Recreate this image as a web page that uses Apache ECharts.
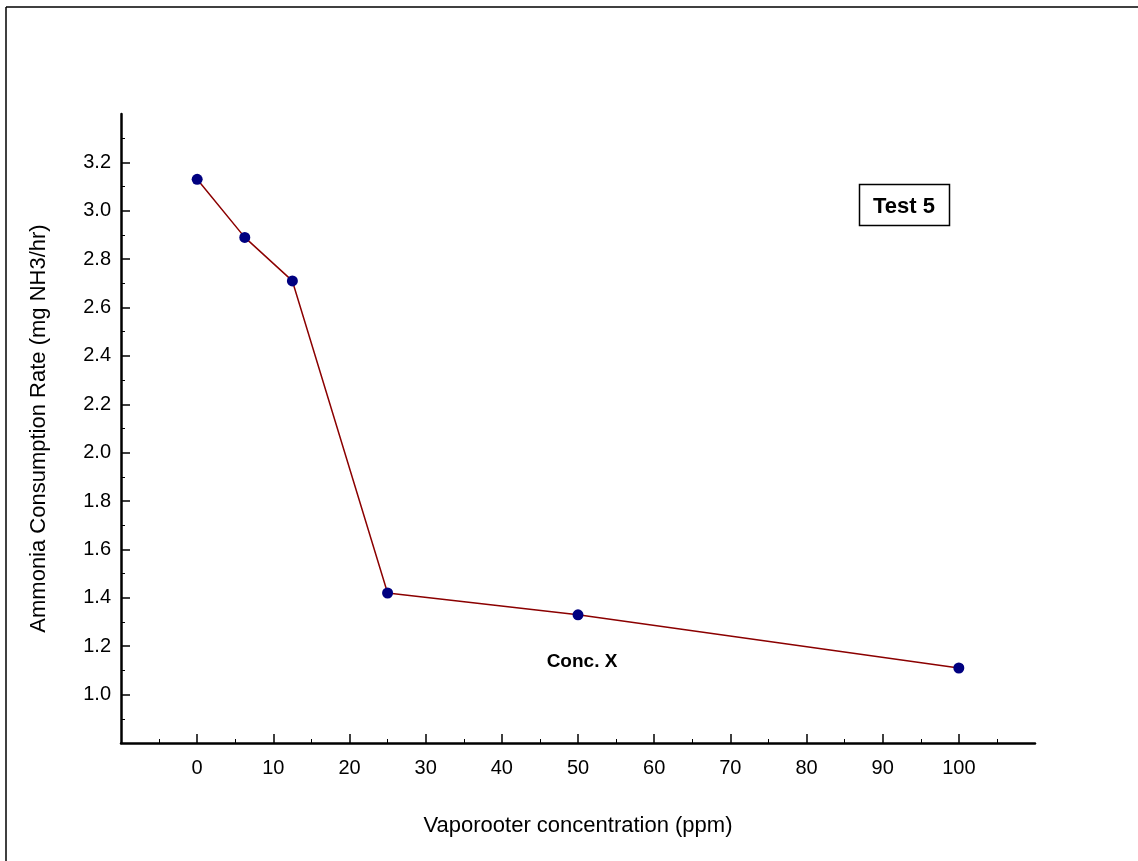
<!DOCTYPE html>
<html lang="en">
<head>
  <meta charset="UTF-8">
  <title>Test 5</title>
  <style>
    html, body { margin: 0; padding: 0; background: #fff; }
    #echart { width: 1138px; height: 861px; }
  </style>
</head>
<body>
  <div id="echart"></div>
  <script src="https://cdn.jsdelivr.net/npm/echarts@6/dist/echarts.min.js"></script>
  <script>
    // concentration (ppm)
    var conc = [0, 6.25, 12.5, 25, 50, 100];
    // ammonia consumption rate (mg NH3/hr)
    var rate = [3.13, 2.89, 2.71, 1.42, 1.33, 1.11];
    var xTicks = [0, 10, 20, 30, 40, 50, 60, 70, 80, 90, 100];
    var yTicks = [1.0, 1.2, 1.4, 1.6, 1.8, 2.0, 2.2, 2.4, 2.6, 2.8, 3.0, 3.2];

    var points = conc.map(function (c, i) { return [c, rate[i]]; });
    var font = 'Liberation Sans, Arial, sans-serif';

    var option = {
      backgroundColor: '#fff',
      animation: false,
      grid: { left: 121, top: 114, right: 103, bottom: 118 },
      xAxis: {
        type: 'value',
        min: -10,
        max: 110,
        interval: 10,
        name: 'Vaporooter concentration (ppm)',
        nameLocation: 'middle',
        nameGap: 72,
        nameTextStyle: { fontFamily: font, fontSize: 22, color: '#000' },
        axisLine: { onZero: false, lineStyle: { color: '#000', width: 2.5 } },
        axisTick: { inside: true, length: 9, customValues: xTicks, lineStyle: { color: '#000', width: 1.5 } },
        minorTick: { show: true, splitNumber: 2, length: 4, lineStyle: { color: '#000', width: 1 } },
        splitLine: { show: false },
        axisLabel: {
          margin: 15,
          fontFamily: font, fontSize: 20, color: '#000',
          formatter: function (v) { return xTicks.indexOf(v) >= 0 ? String(v) : ''; }
        }
      },
      yAxis: {
        type: 'value',
        min: 0.8,
        max: 3.4,
        interval: 0.2,
        name: 'Ammonia Consumption Rate (mg NH3/hr)',
        nameLocation: 'middle',
        nameGap: 71,
        nameTextStyle: { fontFamily: font, fontSize: 22, color: '#000' },
        axisLine: { show: true, onZero: false, lineStyle: { color: '#000', width: 2.5 } },
        axisTick: { show: true, inside: true, length: 9, customValues: yTicks, lineStyle: { color: '#000', width: 1.5 } },
        minorTick: { show: true, splitNumber: 2, length: 4, lineStyle: { color: '#000', width: 1 } },
        splitLine: { show: false },
        axisLabel: {
          margin: 10,
          fontFamily: font, fontSize: 20, color: '#000',
          formatter: function (v) {
            var r = Math.round(v * 10) / 10;
            return yTicks.indexOf(r) >= 0 ? r.toFixed(1) : '';
          }
        }
      },
      series: [{
        type: 'line',
        data: points,
        symbol: 'circle',
        symbolSize: 11,
        lineStyle: { color: '#8b0000', width: 1.5 },
        itemStyle: { color: '#000080' }
      }],
      graphic: [
        { type: 'line', shape: { x1: 6, y1: 7, x2: 1138, y2: 7 }, style: { stroke: '#000', lineWidth: 1.5 } },
        { type: 'line', shape: { x1: 6, y1: 7, x2: 6, y2: 861 }, style: { stroke: '#000', lineWidth: 1.5 } },
        {
          type: 'rect', shape: { x: 859.5, y: 184.5, width: 90, height: 41 },
          style: { fill: '#fff', stroke: '#000', lineWidth: 1.5 }
        },
        {
          type: 'text', x: 904, y: 207,
          style: { text: 'Test 5', font: 'bold 22px ' + font, fill: '#000', align: 'center', verticalAlign: 'middle' }
        },
        {
          type: 'text', x: 582, y: 662,
          style: { text: 'Conc. X', font: 'bold 19px ' + font, fill: '#000', align: 'center', verticalAlign: 'middle' }
        }
      ]
    };

    var myChart = echarts.init(document.getElementById('echart'));
    myChart.setOption(option);
  </script>
</body>
</html>
